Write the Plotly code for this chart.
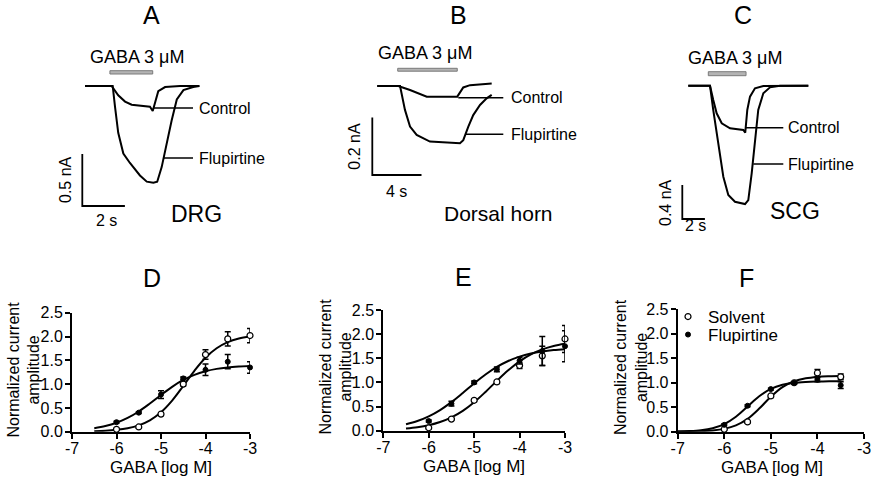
import plotly.graph_objects as go

W, H = 875, 478
FONT = "Arial, 'Liberation Sans', sans-serif"

# ---------------- Top row: current traces (time in s, current in nA) ----------------
# Panel A - DRG
A_t_ctrl = [0, 1.25, 1.56, 1.88, 2.19, 2.58, 3.05, 3.18, 3.44, 3.76, 4.46, 5.37]
A_i_ctrl = [0, 0, -0.09, -0.15, -0.18, -0.19, -0.20, -0.24, -0.05, -0.01, 0, 0]
A_t_flup = [0, 1.30, 1.41, 1.56, 1.80, 2.11, 2.58, 2.90, 3.21, 3.39, 3.60, 3.80, 4.07, 4.31, 4.62, 5.08, 5.37]
A_i_flup = [0, 0, -0.20, -0.45, -0.65, -0.74, -0.86, -0.92, -0.93, -0.92, -0.78, -0.58, -0.33, -0.13, -0.04, -0.01, 0]
A_gaba = [1.17, 3.18]
A_scale = [2, 0.5]          # s, nA
A_scale_labels = ["2 s", "0.5 nA"]

# Panel B - Dorsal horn
B_t_ctrl = [0, 1.71, 2.66, 4.02, 6.50, 6.64, 6.99, 7.54, 9.30]
B_i_ctrl = [0, 0, -0.014, -0.037, -0.037, -0.028, -0.005, 0.003, 0.009]
B_t_flup = [0, 1.85, 2.25, 2.66, 3.20, 4.28, 6.72, 6.99, 7.40, 7.80, 8.35, 8.89, 9.30]
B_i_flup = [0, 0, -0.083, -0.141, -0.170, -0.193, -0.199, -0.188, -0.141, -0.101, -0.066, -0.043, -0.031]
B_gaba = [1.66, 6.50]
B_scale = [4, 0.2]
B_scale_labels = ["4 s", "0.2 nA"]

# Panel C - SCG
C_t_ctrl = [0, 1.92, 2.21, 2.51, 2.96, 3.69, 4.87, 5.04, 5.22, 5.46, 5.90, 6.64, 10.62]
C_i_ctrl = [0, 0, -0.168, -0.325, -0.442, -0.501, -0.521, -0.553, -0.286, -0.129, -0.031, -0.004, 0]
C_t_flup = [0, 1.92, 2.21, 2.65, 3.10, 3.54, 4.13, 5.02, 5.31, 5.61, 5.90, 6.19, 6.64, 7.23, 8.12, 10.62]
C_i_flup = [0, 0, -0.286, -0.678, -1.071, -1.286, -1.365, -1.392, -1.345, -1.031, -0.639, -0.286, -0.089, -0.019, 0, 0]
C_gaba = [1.77, 5.11]
C_scale = [2, 0.4]
C_scale_labels = ["2 s", "0.4 nA"]

# ---------------- Bottom row: concentration-response ----------------
D_x = [-6, -5.5, -5, -4.5, -4, -3.5, -3]
D_solv = [0.05, 0.10, 0.37, 1.00, 1.62, 1.95, 2.02]
D_solv_err = [0.02, 0.02, 0.03, 0.04, 0.10, 0.15, 0.15]
D_flup = [0.20, 0.40, 0.78, 1.12, 1.30, 1.47, 1.35]
D_flup_err = [0.02, 0.02, 0.08, 0.03, 0.12, 0.15, 0.12]
D_fit_x = [-6.5, -6.25, -6.0, -5.75, -5.5, -5.25, -5.0, -4.75, -4.5, -4.25, -4.0, -3.75, -3.5, -3.25, -3.0]
D_fit_solv = [0.011, 0.021, 0.040, 0.073, 0.134, 0.239, 0.408, 0.653, 0.960, 1.279, 1.553, 1.752, 1.881, 1.956, 1.999]
D_fit_flup = [0.073, 0.118, 0.188, 0.289, 0.425, 0.592, 0.772, 0.943, 1.087, 1.195, 1.270, 1.320, 1.351, 1.370, 1.382]

E_x = [-6, -5.5, -5, -4.5, -4, -3.5, -3]
E_solv = [0.06, 0.24, 0.63, 1.01, 1.35, 1.55, 1.90]
E_solv_err = [0.02, 0.02, 0.03, 0.03, 0.06, 0.20, 0.28]
E_flup = [0.20, 0.56, 1.00, 1.27, 1.45, 1.65, 1.75]
E_flup_err = [0.02, 0.05, 0.03, 0.05, 0.07, 0.30, 0.32]
E_fit_x = [-6.5, -6.25, -6.0, -5.75, -5.5, -5.25, -5.0, -4.75, -4.5, -4.25, -4.0, -3.75, -3.5, -3.25, -3.0]
E_fit_solv = [0.045, 0.072, 0.114, 0.179, 0.276, 0.411, 0.589, 0.803, 1.032, 1.250, 1.436, 1.581, 1.684, 1.755, 1.800]
E_fit_flup = [0.132, 0.200, 0.297, 0.428, 0.592, 0.781, 0.978, 1.163, 1.321, 1.444, 1.535, 1.599, 1.641, 1.670, 1.688]

F_x = [-6, -5.5, -5, -4.5, -4, -3.5]
F_solv = [0.05, 0.20, 0.73, 1.00, 1.20, 1.12]
F_solv_err = [0.01, 0.02, 0.03, 0.02, 0.07, 0.06]
F_flup = [0.14, 0.53, 0.87, 1.00, 1.06, 0.95]
F_flup_err = [0.02, 0.02, 0.02, 0.02, 0.04, 0.07]
F_fit_x = [-7.0, -6.75, -6.5, -6.25, -6.0, -5.75, -5.5, -5.25, -5.0, -4.75, -4.5, -4.25, -4.0, -3.75, -3.5]
F_fit_solv = [0.002, 0.005, 0.011, 0.025, 0.058, 0.128, 0.262, 0.472, 0.714, 0.911, 1.031, 1.091, 1.119, 1.131, 1.136]
F_fit_flup = [0.006, 0.014, 0.032, 0.072, 0.156, 0.306, 0.515, 0.724, 0.874, 0.958, 0.998, 1.016, 1.024, 1.028, 1.029]

x_ticks = [-7, -6, -5, -4, -3]
x_ticktext = ["-7", "-6", "-5", "-4", "-3"]
y_ticks = [0, 0.5, 1.0, 1.5, 2.0, 2.5]
y_ticktext = ["0.0", "0.5", "1.0", "1.5", "2.0", "2.5"]

panel_letters = ["A", "B", "C", "D", "E", "F"]
region_names = ["DRG", "Dorsal horn", "SCG"]
series_names = ["Solvent", "Flupirtine"]
gaba_label = "GABA 3 μM"
x_title = "GABA [log M]"
y_title = "Normalized current<br>amplitude"


def px(x):
    """page pixel x -> paper fraction"""
    return x / W


def py(y):
    """page pixel y -> paper fraction"""
    return 1 - y / H


fig = go.Figure()
layout = dict(
    width=W, height=H, margin=dict(l=0, r=0, t=0, b=0, autoexpand=False),
    paper_bgcolor="white", plot_bgcolor="white",
    font=dict(family=FONT, color="black"),
    showlegend=True,
)
annotations = []
shapes = []


def ann(x, y, text, size, xref="paper", yref="paper", xanchor="center", angle=0):
    annotations.append(dict(x=x, y=y, xref=xref, yref=yref, text=text, showarrow=False,
                            xanchor=xanchor, yanchor="middle", textangle=angle,
                            font=dict(size=size, family=FONT, color="black")))


# ---------- top row ----------
top = [
    # (index, pixel box x0,x1,y0,y1, origin px x, origin px y, px per s, px per nA)
    (1, 40, 300, 28, 236, 85.0, 86.0, 21.3, 104.0,
     A_t_ctrl, A_i_ctrl, A_t_flup, A_i_flup, A_gaba, A_scale, A_scale_labels),
    (2, 340, 600, 28, 236, 377.3, 86.0, 12.3, 288.0,
     B_t_ctrl, B_i_ctrl, B_t_flup, B_i_flup, B_gaba, B_scale, B_scale_labels),
    (3, 640, 872, 28, 236, 688.3, 85.7, 11.3, 85.0,
     C_t_ctrl, C_i_ctrl, C_t_flup, C_i_flup, C_gaba, C_scale, C_scale_labels),
]
top_pos = {
    1: dict(title=(151.7, 15), gaba=(136.7, 56.7), bar_y=(70.7, 74.0),
            ctrl_line=(153, 193, 108), flup_line=(163, 193, 158), label_x=197,
            sb=(82.3, 206), ylab=(65, 180), xlab=(106.7, 221), region=(196.7, 213.5), rsize=23),
    2: dict(title=(458.3, 15), gaba=(425, 53.3), bar_y=(68.3, 71.2),
            ctrl_line=(458.3, 503.3, 97.7), flup_line=(466, 503.3, 134.3), label_x=509,
            sb=(372.3, 175), ylab=(355, 146.7), xlab=(396.7, 192), region=(498.3, 213.5), rsize=21),
    3: dict(title=(743.3, 15), gaba=(735, 58.3), bar_y=(71.7, 75.7),
            ctrl_line=(746, 783.3, 127.7), flup_line=(753.3, 783.3, 164), label_x=786,
            sb=(682.3, 219), ylab=(665, 203), xlab=(695, 225), region=(795, 211), rsize=23),
}

for (i, x0, x1, y0, y1, ox, oy, sx, sy, tc, ic, tf, iff, gaba, scale, slabels) in top:
    xa, ya = f"x{i}", f"y{i}"
    layout[f"xaxis{i}"] = dict(domain=[px(x0), px(x1)], range=[(x0 - ox) / sx, (x1 - ox) / sx],
                               visible=False, anchor=ya, fixedrange=True, automargin=False)
    layout[f"yaxis{i}"] = dict(domain=[py(y1), py(y0)], range=[(oy - y1) / sy, (oy - y0) / sy],
                               visible=False, anchor=xa, fixedrange=True, automargin=False)
    fig.add_trace(go.Scatter(x=tc, y=ic, mode="lines", line=dict(color="black", width=2),
                             xaxis=xa, yaxis=ya, showlegend=False, hoverinfo="skip"))
    fig.add_trace(go.Scatter(x=tf, y=iff, mode="lines", line=dict(color="black", width=2),
                             xaxis=xa, yaxis=ya, showlegend=False, hoverinfo="skip"))
    p = top_pos[i]
    tx = lambda X: (X - ox) / sx
    iy = lambda Y: (oy - Y) / sy
    # GABA application bar
    shapes.append(dict(type="rect", xref=xa, yref=ya, x0=gaba[0], x1=gaba[1],
                       y0=iy(p["bar_y"][1]), y1=iy(p["bar_y"][0]),
                       fillcolor="#b4b4b4", line=dict(color="#7a7a7a", width=1)))
    ann(tx(p["gaba"][0]), iy(p["gaba"][1]), gaba_label, 18, xref=xa, yref=ya)
    for key, label in (("ctrl_line", "Control"), ("flup_line", "Flupirtine")):
        a, b, yy = p[key]
        shapes.append(dict(type="line", xref=xa, yref=ya, x0=tx(a), x1=tx(b), y0=iy(yy), y1=iy(yy),
                           line=dict(color="black", width=1.5)))
        ann(tx(p["label_x"]), iy(yy), label, 16, xref=xa, yref=ya, xanchor="left")
    sbx, sby = tx(p["sb"][0]), iy(p["sb"][1])
    fig.add_trace(go.Scatter(x=[sbx, sbx, sbx + scale[0]], y=[sby + scale[1], sby, sby],
                             mode="lines", line=dict(color="black", width=1.8),
                             xaxis=xa, yaxis=ya, showlegend=False, hoverinfo="skip"))
    ann(px(p["ylab"][0]), py(p["ylab"][1]), slabels[1], 16, angle=-90)
    ann(px(p["xlab"][0]), py(p["xlab"][1]), slabels[0], 16)
    ann(px(p["region"][0]), py(p["region"][1]), region_names[i - 1], p["rsize"])
    ann(px(p["title"][0]), py(p["title"][1]), panel_letters[i - 1], 25)

# ---------- bottom row ----------
bottom = [
    (4, (72, 250), (312.7, 431.7), D_x, D_solv, D_solv_err, D_flup, D_flup_err,
     D_fit_x, D_fit_solv, D_fit_flup, (152, 278), (23.5, 370), (160.8, 467)),
    (5, (383.3, 565), (310, 430.7), E_x, E_solv, E_solv_err, E_flup, E_flup_err,
     E_fit_x, E_fit_solv, E_fit_flup, (463, 277), (335.5, 367), (474, 466.5)),
    (6, (677.7, 864), (309.3, 431.7), F_x, F_solv, F_solv_err, F_flup, F_flup_err,
     F_fit_x, F_fit_solv, F_fit_flup, (746.7, 278), (631, 367), (771.7, 467)),
]

for (i, xd, yd, xs, s, se, f, fe, fx, fs, ff, tpos, ytpos, xtpos) in bottom:
    xa, ya = f"x{i}", f"y{i}"
    common = dict(showline=True, linecolor="black", linewidth=2,
                  ticks="outside", ticklen=5, tickwidth=2, tickcolor="black",
                  tickfont=dict(size=16, family=FONT, color="black"),
                  showgrid=False, zeroline=False, fixedrange=True, automargin=False)
    layout[f"xaxis{i}"] = dict(domain=[px(xd[0]), px(xd[1])], range=[-7, -3], anchor=ya,
                               tickvals=x_ticks, ticktext=x_ticktext, ticklabelstandoff=-4, **common)
    layout[f"yaxis{i}"] = dict(domain=[py(yd[1]), py(yd[0])], range=[0, 2.5], anchor=xa,
                               tickvals=y_ticks, ticktext=y_ticktext, ticklabelstandoff=-1, **common)
    fig.add_trace(go.Scatter(x=fx, y=fs, mode="lines", line=dict(color="black", width=2, shape="spline"),
                             xaxis=xa, yaxis=ya, showlegend=False, hoverinfo="skip"))
    fig.add_trace(go.Scatter(x=fx, y=ff, mode="lines", line=dict(color="black", width=2, shape="spline"),
                             xaxis=xa, yaxis=ya, showlegend=False, hoverinfo="skip"))
    leg = (i == 6)
    fig.add_trace(go.Scatter(x=xs, y=s, mode="markers", name=series_names[0], legend="legend",
                             marker=dict(symbol="circle", size=6, color="white",
                                         line=dict(color="black", width=1.2)),
                             error_y=dict(type="data", array=se, color="black", thickness=1.5, width=3),
                             cliponaxis=False, xaxis=xa, yaxis=ya, showlegend=leg))
    fig.add_trace(go.Scatter(x=xs, y=f, mode="markers", name=series_names[1], legend="legend2",
                             marker=dict(symbol="circle", size=5, color="black",
                                         line=dict(color="black", width=1)),
                             error_y=dict(type="data", array=fe, color="black", thickness=1.5, width=3),
                             cliponaxis=False, xaxis=xa, yaxis=ya, showlegend=leg))
    ann(px(tpos[0]), py(tpos[1]), panel_letters[i - 1], 25)
    ann(px(ytpos[0]), py(ytpos[1]), y_title, 16, angle=-90)
    ann(px(xtpos[0]), py(xtpos[1]), x_title, 17)

leg_common = dict(xanchor="left", yanchor="middle",
                  font=dict(size=17, family=FONT, color="black"),
                  bgcolor="rgba(0,0,0,0)", itemwidth=30, borderwidth=0)
layout["legend"] = dict(x=px(668), y=py(317), **leg_common)
layout["legend2"] = dict(x=px(668), y=py(335), **leg_common)
layout["annotations"] = annotations
layout["shapes"] = shapes
fig.update_layout(**layout)
# remove the browser's default 8px body margin so the 875x478 figure fills the window
fig.write_html("out.html",
               config={"displayModeBar": False, "staticPlot": True},
               post_script="document.body.style.margin='0';document.body.style.overflow='hidden';")
